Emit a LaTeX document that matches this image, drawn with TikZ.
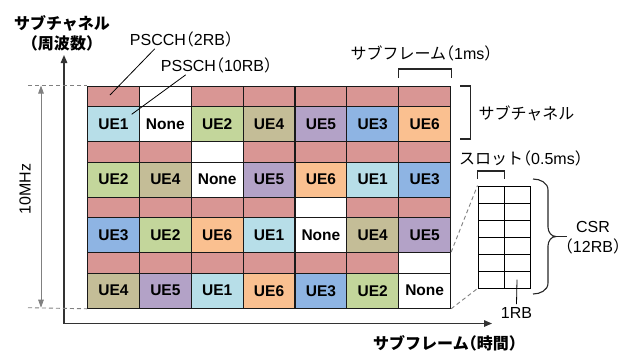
\documentclass[tikz,border=0pt]{standalone}
\usepackage{fontspec}
\setmainfont{Liberation Sans}
\newfontfamily\jp[RawFeature=+halt]{Noto Sans CJK JP}
\usetikzlibrary{arrows.meta}
\definecolor{cpink}{HTML}{D99694}
\definecolor{cUE1}{HTML}{B7DEE8}
\definecolor{cUE2}{HTML}{C3D69B}
\definecolor{cUE3}{HTML}{8EB4E3}
\definecolor{cUE4}{HTML}{C4BD97}
\definecolor{cUE5}{HTML}{B3A2C7}
\definecolor{cUE6}{HTML}{FAC090}
\definecolor{cNone}{HTML}{FFFFFF}
\definecolor{axisgray}{HTML}{333333}
\definecolor{dashgray}{HTML}{808080}
\newcommand\lbl{\fontsize{16bp}{20bp}\selectfont}
\newcommand\uel{\fontsize{15.5bp}{18bp}\selectfont\bfseries}
\begin{document}
\begin{tikzpicture}[x=1bp,y=-1bp,
  gridcell/.style={draw=black!90,line width=1.1bp,inner sep=0pt,anchor=north west,minimum width=51.86bp},
  pinkcell/.style={gridcell,minimum height=20.5bp},
  uecell/.style={gridcell,minimum height=35.05bp,font=\uel},
  scell/.style={draw=black,line width=1bp,inner sep=0pt,anchor=north west,minimum width=26bp,minimum height=17bp},
  axisline/.style={draw=axisgray,line width=1.4bp,arrows={Triangle[length=8bp,width=6.5bp]-Triangle[length=8bp,width=6.5bp]}},
  dashline/.style={draw=dashgray,line width=0.9bp,dash pattern=on 4bp off 3bp},
  garrow/.style={draw=dashgray,line width=0.9bp,arrows={Triangle[length=8bp,width=5.5bp]-Triangle[length=8bp,width=5.5bp]}},
  leader/.style={draw=black,line width=0.8bp},
  bracket/.style={draw=black!85,line width=1.1bp},
  txt/.style={inner sep=0pt,font=\lbl},
]
\useasboundingbox (0,0) rectangle (631,353);

% grid
\foreach \r/\w/\labs in {1/2/{UE1,None,UE2,UE4,UE5,UE3,UE6},2/3/{UE2,UE4,None,UE5,UE6,UE1,UE3},3/5/{UE3,UE2,UE6,UE1,None,UE4,UE5},4/7/{UE4,UE5,UE1,UE6,UE3,UE2,None}}{
  \pgfmathsetmacro\yp{85.5+(\r-1)*55.55}
  \pgfmathsetmacro\yu{\yp+20.5}
  \foreach \lab [count=\c] in \labs {
    \pgfmathsetmacro\xc{87+(\c-1)*51.86}
    \ifnum\c=\w\def\pc{white}\else\def\pc{cpink}\fi
    \node[pinkcell,fill=\pc] (p-\r-\c) at (\xc,\yp) {};
    \node[uecell,fill=c\lab] (u-\r-\c) at (\xc,\yu) {\lab};
  }
}

% axes
\coordinate (ya) at (64,55);
\coordinate (xa) at (492,323.5);
\draw[axisline] (ya) |- (xa);
\node[txt,font=\lbl\jp\bfseries,align=center] (ytitle) at (62,33) {サブチャネル\\（周波数）};
\node[txt,font=\lbl\jp\bfseries] (xtitle) at (445,343) {サブフレーム（時間）};

% 10 MHz
\coordinate (dl1) at (28,85.5);
\coordinate (dl2) at (28,307.7);
\draw[dashline] (dl1) -- (p-1-1.north west);
\draw[dashline] (dl2) -- (u-4-1.south west);
\coordinate (mt) at (41,85.5);
\coordinate (mb) at (41,307.7);
\draw[garrow] (mt) -- (mb);
\node[txt,rotate=90] (mhz) at (25,189) {10MHz};

% PSCCH / PSSCH labels
\node[txt] (pscch) at (181.5,39) {PSCCH{\jp （}2RB{\jp ）}};
\node[txt] (pssch) at (216.5,65) {PSSCH{\jp （}10RB{\jp ）}};
\coordinate (pa) at (110,95);
\coordinate (pb) at (131.7,114.3);
\draw[leader] ([xshift=25bp,yshift=-2bp]pscch.south west) -- (pa);
\draw[leader] ([xshift=25bp,yshift=-2bp]pssch.south west) -- (pb);

% subframe bracket
\node[txt] (sf) at (421.5,53) {{\jp サブフレーム（}1ms{\jp ）}};
\draw[bracket] ([yshift=7.5bp]p-1-7.north west) -- ++(0,-9) -| ([yshift=7.5bp]p-1-7.north east);

% subchannel bracket
\coordinate (sc1) at (460,86);
\coordinate (sc2) at (460,139);
\draw[bracket] (sc1) -- ++(10.7,0) |- (sc2);
\node[txt] (sclab) at (526.5,113) {\jp サブチャネル};

% small CSR grid
\foreach \i in {1,...,6}{
  \foreach \j in {1,2}{
    \node[scell] (s-\i-\j) at ({477.5+(\j-1)*26},{185.5+(\i-1)*17}) {};
  }
}
\draw[dashline] (p-4-7.north east) -- (s-1-1.north west);
\draw[dashline] (u-4-7.south east) -- (s-6-1.south west);

% slot bracket
\node[txt] (slot) at (521,158) {{\jp スロット（}0.5ms{\jp ）}};
\draw[bracket] ([yshift=6.5bp]s-1-1.north west) -- ++(0,-8) -| ([yshift=6.5bp]s-1-1.north east);

% CSR brace
\coordinate (b1) at (533,179);
\coordinate (b2) at (533,294);
\coordinate (bt) at (556,236.5);
\coordinate (bs) at (567,236.5);
\draw[bracket] (b1) to[out=0,in=90] (548,190) -- (548,227) to[out=-90,in=180] (bt)
   to[out=180,in=90] (548,246) -- (548,283) to[out=-90,in=0] (b2);
\draw[bracket] (bt) -- (bs);
\node[txt,align=center,font=\lbl] (csr) at (593,238) {CSR\\{\jp （}12RB{\jp ）}};

% 1RB
\node[txt,inner sep=3bp,anchor=base] (rb) at (516.5,318.4) {1RB};
\draw[leader] (s-6-2.center) -- (rb.north);
\end{tikzpicture}
\end{document}
